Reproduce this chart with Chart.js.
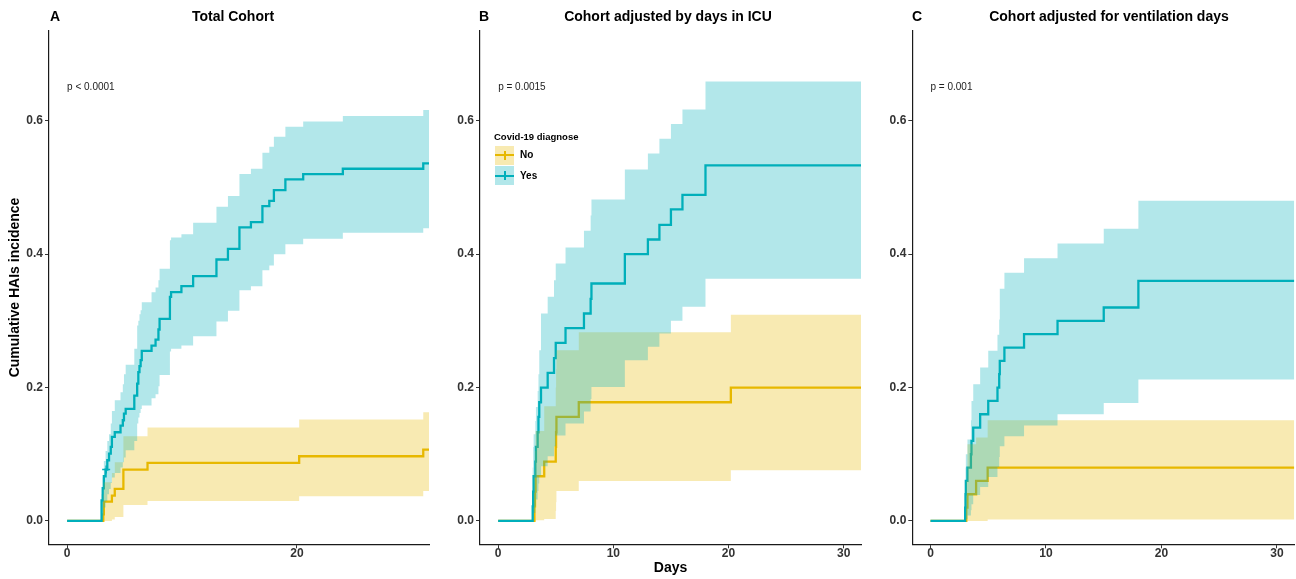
<!DOCTYPE html>
<html>
<head>
<meta charset="utf-8">
<title>Cumulative HAIs incidence</title>
<script src="https://cdn.jsdelivr.net/npm/chart.js@4.4.1/dist/chart.umd.min.js"></script>
<style>
  html, body { margin: 0; padding: 0; background: #fff; }
  body { position: relative; width: 1296px; height: 579px; overflow: hidden;
         font-family: "Liberation Sans", Arial, sans-serif; color: #000; }
  canvas { position: absolute; top: 0; }
  .lbl { position: absolute; white-space: nowrap; }
  .tag, .title { top: 8px; font-size: 14px; font-weight: bold; line-height: 16px; }
  .title { transform: translateX(-50%); }
  .pval { font-size: 10px; line-height: 12px; color: #222; transform: translateY(-50%); }
  .leg-title { left: 494px; top: 131px; font-size: 9.5px; font-weight: bold; line-height: 11px; }
  .key { position: absolute; left: 495px; width: 19px; height: 19px; }
  .key::before { content: ""; position: absolute; left: 0; right: 0; top: 8.5px; height: 2px; background: var(--c); }
  .key::after { content: ""; position: absolute; left: 8.5px; width: 2px; top: 5px; height: 9px; background: var(--c); }
  .key-lbl { left: 520px; font-size: 10px; font-weight: bold; line-height: 12px; transform: translateY(-50%); }
</style>
</head>
<body>
<canvas id="chartA" width="432" height="579" style="left:0px"></canvas>
<canvas id="chartB" width="432" height="579" style="left:432px"></canvas>
<canvas id="chartC" width="432" height="579" style="left:864px"></canvas>

<div class="lbl tag" style="left:50px">A</div>
<div class="lbl tag" style="left:479px">B</div>
<div class="lbl tag" style="left:912px">C</div>
<div class="lbl title" style="left:233px">Total Cohort</div>
<div class="lbl title" style="left:668px">Cohort adjusted by days in ICU</div>
<div class="lbl title" style="left:1109px">Cohort adjusted for ventilation days</div>

<div class="lbl leg-title">Covid-19 diagnose</div>
<div class="key" style="top:145.5px; background:rgba(231,184,0,0.3); --c:#E7B800"></div>
<div class="key" style="top:166px; background:rgba(0,175,187,0.3); --c:#00AFBB"></div>
<div class="lbl key-lbl" style="top:155px">No</div>
<div class="lbl key-lbl" style="top:176px">Yes</div>

<script>
// tick values
const xTicksA = [0, 20];
const xTicksBC = [0, 10, 20, 30];
const yTicks = [0, 0.2, 0.4, 0.6];
const pValues = ["p < 0.0001", "p = 0.0015", "p = 0.001"];
const pValueAt = [0, 0.65];

// A - Total cohort, Covid-19 = No
const aNoT   = [0, 3.15, 3.2, 3.9, 4.15, 4.9, 7.0, 20.2, 31.0, 31.5];
const aNoEst = [0, 0.010, 0.029, 0.038, 0.048, 0.077, 0.087, 0.097, 0.107, 0.107];
const aNoHi  = [0, 0.040, 0.058, 0.072, 0.088, 0.127, 0.140, 0.152, 0.163, 0.163];
const aNoLo  = [0, 0, 0, 0.002, 0.006, 0.024, 0.030, 0.037, 0.045, 0.045];
// A - Total cohort, Covid-19 = Yes
const aYesT   = [0, 3.0, 3.1, 3.2, 3.35, 3.5, 3.65, 3.8, 3.9, 4.15, 4.65, 4.85, 4.95, 5.1, 5.85, 6.1, 6.2, 6.3, 6.4, 6.5,
                 7.35, 7.7, 7.95, 8.05, 8.95, 9.05, 9.95, 10.97, 13.0, 14.0, 15.0, 16.0, 17.0, 17.6, 18.0, 19.0, 20.55, 24.0, 31.0, 31.5];
const aYesEst = [0, 0.031, 0.049, 0.067, 0.077, 0.091, 0.101, 0.111, 0.126, 0.133, 0.143, 0.151, 0.161, 0.168, 0.188, 0.206, 0.223, 0.232, 0.241, 0.255,
                 0.263, 0.272, 0.287, 0.303, 0.336, 0.343, 0.352, 0.367, 0.392, 0.408, 0.440, 0.448, 0.472, 0.480, 0.496, 0.512, 0.520, 0.528, 0.536, 0.536];
const aYesHi  = [0, 0.040, 0.065, 0.090, 0.105, 0.120, 0.130, 0.146, 0.165, 0.181, 0.193, 0.205, 0.220, 0.234, 0.258, 0.293, 0.300, 0.310, 0.316, 0.328,
                 0.343, 0.350, 0.361, 0.378, 0.421, 0.425, 0.430, 0.447, 0.471, 0.487, 0.520, 0.528, 0.552, 0.561, 0.576, 0.591, 0.599, 0.607, 0.616, 0.616];
const aYesLo  = [0, 0, 0.008, 0.020, 0.030, 0.040, 0.048, 0.057, 0.065, 0.072, 0.080, 0.088, 0.095, 0.106, 0.120, 0.146, 0.155, 0.162, 0.168, 0.173,
                 0.184, 0.190, 0.202, 0.219, 0.254, 0.258, 0.263, 0.277, 0.299, 0.315, 0.346, 0.352, 0.376, 0.383, 0.400, 0.415, 0.423, 0.432, 0.439, 0.439];
const aYesCensT = [3.4];
const aYesCensV = [0.077];

// B - adjusted by days in ICU
const bNoT   = [0, 3.15, 3.2, 3.25, 4.0, 5.0, 5.03, 5.06, 7.0, 20.2, 31.5];
const bNoEst = [0, 0.022, 0.044, 0.067, 0.089, 0.111, 0.133, 0.156, 0.178, 0.200, 0.200];
const bNoHi  = [0, 0.070, 0.105, 0.135, 0.172, 0.200, 0.228, 0.256, 0.283, 0.309, 0.309];
const bNoLo  = [0, 0, 0, 0.001, 0.003, 0.015, 0.028, 0.045, 0.060, 0.076, 0.076];
const bYesT   = [0, 3.0, 3.04, 3.08, 3.23, 3.28, 3.43, 3.5, 3.57, 3.72, 4.3, 4.85, 5.0, 5.85, 7.45, 8.03, 8.1, 11.0, 13.0, 14.0, 15.0, 16.0, 18.0, 31.5];
const bYesEst = [0, 0.022, 0.044, 0.067, 0.089, 0.111, 0.133, 0.156, 0.178, 0.200, 0.222, 0.244, 0.267, 0.289, 0.311, 0.333, 0.356, 0.400, 0.422, 0.444, 0.467, 0.489, 0.533, 0.533];
const bYesHi  = [0, 0.080, 0.111, 0.130, 0.150, 0.171, 0.195, 0.220, 0.256, 0.311, 0.336, 0.361, 0.386, 0.410, 0.435, 0.458, 0.482, 0.527, 0.551, 0.573, 0.595, 0.617, 0.659, 0.659];
const bYesLo  = [0, 0, 0.004, 0.012, 0.022, 0.032, 0.045, 0.056, 0.068, 0.082, 0.097, 0.112, 0.128, 0.146, 0.164, 0.183, 0.201, 0.241, 0.261, 0.281, 0.300, 0.321, 0.363, 0.363];

// C - adjusted for ventilation days
const cNoT   = [0, 3.1, 3.2, 3.95, 4.95, 31.5];
const cNoEst = [0, 0.020, 0.040, 0.060, 0.080, 0.080];
const cNoHi  = [0, 0.060, 0.115, 0.125, 0.151, 0.151];
const cNoLo  = [0, 0, 0, 0, 0.002, 0.002];
const cYesT   = [0, 3.0, 3.03, 3.06, 3.2, 3.5, 3.55, 3.7, 4.3, 5.0, 5.8, 5.95, 6.0, 6.4, 8.1, 11.0, 15.0, 18.0, 31.5];
const cYesEst = [0, 0.02, 0.04, 0.06, 0.08, 0.10, 0.12, 0.14, 0.16, 0.18, 0.20, 0.22, 0.24, 0.26, 0.28, 0.30, 0.32, 0.36, 0.36];
const cYesHi  = [0, 0.060, 0.080, 0.100, 0.122, 0.151, 0.180, 0.205, 0.230, 0.255, 0.279, 0.302, 0.348, 0.372, 0.394, 0.416, 0.438, 0.480, 0.480];
const cYesLo  = [0, 0, 0, 0.003, 0.008, 0.016, 0.025, 0.039, 0.051, 0.066, 0.081, 0.096, 0.112, 0.127, 0.143, 0.160, 0.177, 0.212, 0.212];

const noColor = "#E7B800";
const yesColor = "#00AFBB";
const noFill = "rgba(231,184,0,0.3)";
const yesFill = "rgba(0,175,187,0.3)";

Chart.defaults.font.family = '"Liberation Sans", Arial, sans-serif';

function pts(t, v) {
  return t.map((x, i) => ({ x: x, y: v[i] }));
}

function line(t, v, color, order) {
  return { data: pts(t, v), borderColor: color, borderWidth: 2.3, stepped: true,
           pointRadius: 0, fill: false, order: order };
}

function edge(t, v, fill, color, order) {
  return { data: pts(t, v), borderColor: "transparent", borderWidth: 0, stepped: true,
           pointRadius: 0, fill: fill, backgroundColor: color, order: order };
}

// lines first, then ribbons on top (like ggsurvplot)
function groupSets(no, yes) {
  return [
    line(no.t, no.est, noColor, 4),
    line(yes.t, yes.est, yesColor, 3),
    edge(no.t, no.hi, false, noFill, 2),
    edge(no.t, no.lo, "-1", noFill, 2),
    edge(yes.t, yes.hi, false, yesFill, 1),
    edge(yes.t, yes.lo, "-1", yesFill, 1),
  ];
}

const tickFont = { size: 12, weight: "bold", lineHeight: 1 };

function makePanel(id, datasets, xTicks, yTitle, xTitle, yWidth, padRight) {
  return new Chart(document.getElementById(id), {
    type: "line",
    data: { datasets: datasets },
    options: {
      responsive: false,
      animation: false,
      events: [],
      layout: { autoPadding: false, padding: { top: 30.7, right: padRight, bottom: 0, left: 0 } },
      plugins: { legend: { display: false }, tooltip: { enabled: false } },
      scales: {
        x: {
          type: "linear", min: -1.575, max: 31.5,
          afterBuildTicks: (s) => { s.ticks = xTicks.map((v) => ({ value: v })); },
          afterFit: (s) => { s.height = 34.7; },
          grid: { drawOnChartArea: false, tickLength: 4, tickColor: "#333", tickWidth: 1 },
          border: { display: true, color: "#1a1a1a", width: 1.2 },
          ticks: { color: "#333", font: tickFont, padding: -1, maxRotation: 0, autoSkip: false },
          title: { display: !!xTitle, text: xTitle || "", color: "#000",
                   font: { size: 14, weight: "bold" }, padding: { top: 0, bottom: 2.6 } },
        },
        y: {
          type: "linear", min: -0.035, max: 0.735,
          afterBuildTicks: (s) => { s.ticks = yTicks.map((v) => ({ value: v })); },
          afterFit: (s) => { s.width = yWidth; },
          grid: { drawOnChartArea: false, tickLength: 4, tickColor: "#333", tickWidth: 1 },
          border: { display: true, color: "#1a1a1a", width: 1.2 },
          ticks: { color: "#333", font: tickFont, padding: 2, autoSkip: false,
                   callback: (v) => Number(v).toFixed(1) },
          title: { display: !!yTitle, text: yTitle || "", color: "#000",
                   font: { size: 14, weight: "bold" }, padding: { top: 7, bottom: 0 } },
        },
      },
    },
  });
}

const setsA = groupSets(
  { t: aNoT, est: aNoEst, hi: aNoHi, lo: aNoLo },
  { t: aYesT, est: aYesEst, hi: aYesHi, lo: aYesLo }
);
setsA.push({ data: pts(aYesCensT, aYesCensV), showLine: false, pointStyle: "cross",
             pointRadius: 4, pointBorderColor: yesColor, pointBorderWidth: 1.5, order: 0 });

const chartA = makePanel("chartA", setsA, xTicksA, "Cumulative HAIs incidence", null, 49, 3);
const chartB = makePanel("chartB", groupSets(
  { t: bNoT, est: bNoEst, hi: bNoHi, lo: bNoLo },
  { t: bYesT, est: bYesEst, hi: bYesHi, lo: bYesLo }
), xTicksBC, null, "Days", 48, 3);
const chartC = makePanel("chartC", groupSets(
  { t: cNoT, est: cNoEst, hi: cNoHi, lo: cNoLo },
  { t: cYesT, est: cYesEst, hi: cYesHi, lo: cYesLo }
), xTicksBC, null, null, 48.3, 1.7);

// p-value annotations placed in data coordinates
[chartA, chartB, chartC].forEach((ch, i) => {
  const left = parseFloat(ch.canvas.style.left);
  const d = document.createElement("div");
  d.className = "lbl pval";
  d.textContent = pValues[i];
  d.style.left = (left + ch.scales.x.getPixelForValue(pValueAt[0])) + "px";
  d.style.top = ch.scales.y.getPixelForValue(pValueAt[1]) + "px";
  document.body.appendChild(d);
});
</script>
</body>
</html>
